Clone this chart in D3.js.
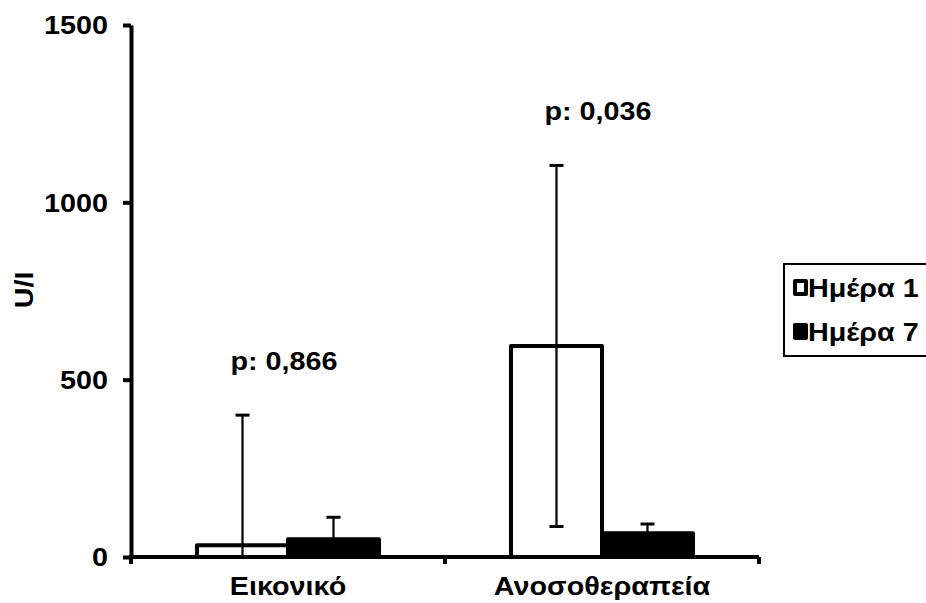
<!DOCTYPE html>
<html>
<head>
<meta charset="utf-8">
<script src="https://cdn.jsdelivr.net/npm/d3@7"></script>
<style>
  html, body { margin: 0; padding: 0; background: #fff; }
  svg text { font-family: "Liberation Sans", Arial, sans-serif; font-weight: bold; fill: #000; }
</style>
</head>
<body>
<svg id="chart" width="926" height="603"></svg>
<script>
// data
var categories = ["Εικονικό", "Ανοσοθεραπεία"];
var series = ["Ημέρα 1", "Ημέρα 7"];
var means = [[33, 50], [595, 67]];
var sds = [[367, 62], [509, 26]];
var pValues = ["p: 0,866", "p: 0,036"];
var yTicks = [0, 500, 1000, 1500];
var fills = ["#fff", "#000"];

var svg = d3.select("#chart");
var mLeft = 131, mRight = 759, mTop = 25, mBottom = 557;
var fs = "25px", sx = 1.15;

// text stretched a bit wider, like the original
function label(parent, x, y, txt, anchor) {
  return parent.append("text")
    .attr("transform", "translate(" + x + "," + y + ") scale(" + sx + ",1)")
    .attr("text-anchor", anchor || "start")
    .style("font-size", fs)
    .text(txt);
}

var x = d3.scaleBand().domain(categories).range([mLeft, mRight]).padding(0);
var xs = d3.scaleBand().domain(series).range([0, x.bandwidth()])
    .paddingInner(0).paddingOuter(0.725);
var y = d3.scaleLinear().domain([0, 1500]).range([mBottom, mTop]);

// y axis
var yAxis = svg.append("g")
    .attr("transform", "translate(" + mLeft + ",0)")
    .call(d3.axisLeft(y).tickValues(yTicks).tickFormat(d3.format("d"))
      .tickSize(8).tickSizeOuter(0).tickPadding(12));
yAxis.select(".domain").attr("stroke", "#000").attr("stroke-width", 4);
yAxis.selectAll(".tick line").attr("stroke", "#000").attr("stroke-width", 4);
yAxis.selectAll(".tick text").style("font-size", fs).attr("dy", "0.35em")
  .attr("transform", "scale(" + sx + ",1)");

svg.append("text")
    .attr("transform", "translate(33,290) rotate(-90) scale(" + sx + ",1)")
    .attr("text-anchor", "middle")
    .style("font-size", fs)
    .text("U/I");

// bars
var groups = svg.selectAll(".grp").data(categories).enter().append("g")
    .attr("class", "grp")
    .attr("transform", function(d) { return "translate(" + x(d) + ",0)"; });

groups.each(function(cat, ci) {
  var g = d3.select(this);
  series.forEach(function(s, si) {
    var v = means[ci][si];
    g.append("rect")
      .attr("x", xs(s))
      .attr("y", y(v))
      .attr("width", xs.bandwidth())
      .attr("height", y(0) - y(v))
      .attr("fill", fills[si])
      .attr("stroke", "#000")
      .attr("stroke-width", 4)
      .attr("stroke-linejoin", "round");
  });
  series.forEach(function(s, si) {
    var v = means[ci][si], sd = sds[ci][si];
    var cx = xs(s) + xs.bandwidth() / 2;
    var hi = v + sd, lo = Math.max(0, v - sd);
    g.append("line")
      .attr("x1", cx).attr("x2", cx)
      .attr("y1", y(hi)).attr("y2", y(lo))
      .attr("stroke", "#000").attr("stroke-width", 2.2);
    g.append("line")
      .attr("x1", cx - 7).attr("x2", cx + 7)
      .attr("y1", y(hi)).attr("y2", y(hi))
      .attr("stroke", "#000").attr("stroke-width", 3);
    if (v - sd > 0) {
      g.append("line")
        .attr("x1", cx - 7).attr("x2", cx + 7)
        .attr("y1", y(lo)).attr("y2", y(lo))
        .attr("stroke", "#000").attr("stroke-width", 3);
    }
  });
  var maxHi = d3.max(means[ci].map(function(m, i) { return m + sds[ci][i]; }));
  label(g, x.bandwidth() / 2 - 4, y(maxHi) - 45, pValues[ci], "middle");
});

// x axis
svg.append("line")
  .attr("x1", mLeft - 2).attr("x2", mRight)
  .attr("y1", mBottom).attr("y2", mBottom)
  .attr("stroke", "#000").attr("stroke-width", 4);
var bounds = categories.map(function(c) { return x(c); }).concat([x(categories[1]) + x.bandwidth()]);
svg.selectAll(".xtick").data(bounds).enter().append("line")
  .attr("x1", function(d) { return d; }).attr("x2", function(d) { return d; })
  .attr("y1", mBottom).attr("y2", mBottom + 7)
  .attr("stroke", "#000").attr("stroke-width", 4);
categories.forEach(function(c) {
  label(svg, x(c) + x.bandwidth() / 2, 595, c, "middle");
});

// legend
var lg = svg.append("g");
lg.append("rect")
  .attr("x", 784).attr("y", 264).attr("width", 160).attr("height", 92)
  .attr("fill", "#fff").attr("stroke", "#000").attr("stroke-width", 2);
series.forEach(function(s, i) {
  var by = 297 + i * 44;
  lg.append("rect")
    .attr("x", 795).attr("y", by - 16).attr("width", 11).attr("height", 13)
    .attr("fill", fills[i]).attr("stroke", "#000").attr("stroke-width", 4)
    .attr("stroke-linejoin", "round");
  label(lg, 808, by, s, "start");
});
</script>
</body>
</html>
